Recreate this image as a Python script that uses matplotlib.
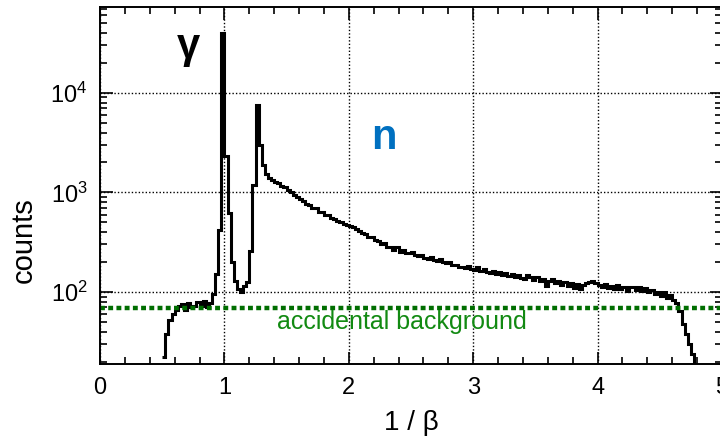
import numpy as np
import matplotlib
matplotlib.use("Agg")
import matplotlib.pyplot as plt
from matplotlib.ticker import MultipleLocator, LogLocator, NullFormatter

plt.rcParams['font.family'] = ['Liberation Sans', 'DejaVu Sans']
plt.rcParams['mathtext.fontset'] = 'custom'
plt.rcParams['mathtext.rm'] = 'Liberation Sans'

# histogram: first bin start, bin width, counts per bin
bin_start = 0.5
bin_width = 0.025
counts = [
    22, 38, 52, 60, 66, 72, 76, 66, 78, 70,            # 0.500 - 0.725
    72, 79, 73, 81, 70, 78, 95, 150, 420, 40000,       # 0.750 - 0.975
    2300, 620, 200, 130, 108, 100, 114, 125, 260, 1200,  # 1.000 - 1.225
    7500, 3000, 1900, 1550, 1400, 1330, 1270, 1240, 1160, 1140,  # 1.250 - 1.475
    1070, 1020, 950, 910, 850, 830, 760, 750, 690, 700,  # 1.500 - 1.725
    640, 640, 595, 595, 555, 545, 515, 510, 480, 475,   # 1.750 - 1.975
    455, 445, 425, 410, 390, 385, 355, 355, 330, 325,   # 2.000 - 2.225
    305, 310, 285, 285, 265, 280, 255, 266, 248, 248,   # 2.250 - 2.475
    250, 236, 228, 236, 222, 216, 226, 208, 204, 214,   # 2.500 - 2.725
    198, 194, 200, 186, 186, 178, 180, 173, 184, 170,   # 2.750 - 2.975
    168, 178, 163, 170, 158, 156, 164, 150, 158, 148,   # 3.000 - 3.225
    155, 144, 152, 140, 147, 138, 136, 148, 140, 132,   # 3.250 - 3.475
    140, 128, 134, 114, 128, 134, 123, 130, 118, 127,   # 3.500 - 3.725
    116, 124, 110, 119, 108, 117, 123, 127, 130, 123,   # 3.750 - 3.975
    117, 112, 121, 110, 116, 108, 118, 106, 113, 102,   # 4.000 - 4.225
    111, 113, 104, 111, 102, 109, 99, 105, 95, 101,     # 4.250 - 4.475
    91, 99, 87, 93, 84, 78, 64, 48, 38, 30,             # 4.500 - 4.725
    24, 18,                                             # 4.750 - 4.775
]
background_level = 69

x_ticks = [0, 1, 2, 3, 4, 5]

edges = bin_start + bin_width * np.arange(len(counts) + 1)

fig = plt.figure(figsize=(7.2, 4.37), dpi=100)
ax = fig.add_axes([100 / 720, 73 / 437, 622 / 720, 357 / 437])

ax.stairs(counts, edges, color='black', lw=2.2, baseline=None)
ax.axhline(background_level, color='#006e00', lw=3.2, linestyle=(0, (1.1, 0.75)))

ax.set_yscale('log')
ax.set_xlim(0, 5)
ax.set_ylim(18.9, 73000)

ax.set_xticks(x_ticks)
ax.xaxis.set_minor_locator(MultipleLocator(0.2))
ax.yaxis.set_major_locator(LogLocator(base=10, numticks=10))
ax.yaxis.set_minor_locator(LogLocator(base=10, subs=np.arange(2, 10), numticks=20))
ax.yaxis.set_minor_formatter(NullFormatter())

ax.grid(True, which='major', color='black', linestyle=(0, (1, 1.5)), lw=1.0)
ax.tick_params(which='both', direction='in', top=True, right=True, labelsize=17, width=1.2, pad=9)
ax.tick_params(which='major', length=9)
ax.tick_params(which='minor', length=5)
for s in ax.spines.values():
    s.set_linewidth(1.4)

ax.set_xlabel('1 / β', fontsize=20, labelpad=8)
ax.set_ylabel('counts', fontsize=21)
ax.yaxis.set_label_coords(-0.10, 0.347)

ax.text(0.71, 2.9e4, 'γ', fontsize=30, fontweight='bold', color='black', ha='center', va='center')
ax.text(2.28, 3.5e3, 'n', fontsize=30, fontweight='bold', color='#0070c0', ha='center', va='center')
ax.text(2.43, 50, 'accidental background', fontsize=18, color='#128a12', ha='center', va='center')

fig.savefig('out.png', dpi=100)
